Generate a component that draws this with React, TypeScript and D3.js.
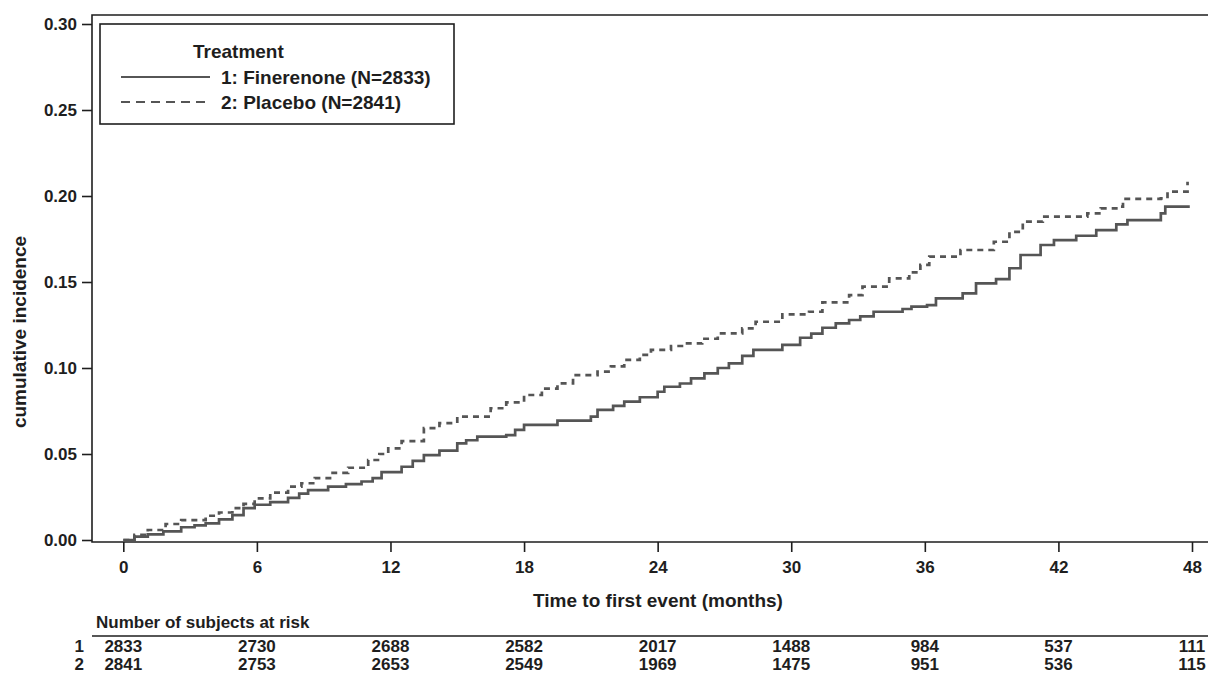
import React, { useEffect, useRef } from 'react';
import * as d3 from 'd3';

// Kaplan-Meier style cumulative incidence (months, proportion)
const finerenoneTime = [0, 0.5, 1.1, 1.8, 2.6, 3.2, 3.7, 4.3, 4.9, 5.4, 5.9, 6.6, 7.4, 7.9, 8.3, 9.2, 10.0, 10.7, 11.2, 11.6, 12.5, 13.0, 13.5, 14.2, 15.0, 15.4, 15.9, 17.2, 17.6, 18.0, 19.5, 21.0, 21.3, 22.0, 22.5, 23.2, 24.0, 24.3, 25.0, 25.5, 26.1, 26.7, 27.2, 27.8, 28.3, 29.6, 30.4, 30.9, 31.4, 32.0, 32.6, 33.1, 33.7, 35.0, 35.4, 36.1, 36.5, 37.7, 38.3, 39.2, 39.8, 40.3, 41.2, 41.8, 42.8, 43.7, 44.6, 45.1, 46.6, 46.8, 47.9];
const finerenoneInc = [0, 0.002, 0.0033, 0.005, 0.0074, 0.0085, 0.0097, 0.012, 0.0145, 0.0185, 0.0205, 0.022, 0.0245, 0.027, 0.029, 0.031, 0.0325, 0.034, 0.036, 0.0395, 0.0426, 0.046, 0.0494, 0.052, 0.0562, 0.058, 0.0601, 0.061, 0.064, 0.0669, 0.0694, 0.0717, 0.0756, 0.078, 0.0804, 0.083, 0.0862, 0.0891, 0.091, 0.094, 0.0969, 0.100, 0.1027, 0.107, 0.1105, 0.1134, 0.1176, 0.120, 0.1234, 0.126, 0.1279, 0.130, 0.1327, 0.1343, 0.1357, 0.1366, 0.1405, 0.1434, 0.1492, 0.1517, 0.158, 0.1657, 0.1715, 0.1744, 0.1769, 0.1802, 0.1835, 0.186, 0.1899, 0.1938, 0.1938];

const placeboTime = [0, 0.5, 1.1, 1.9, 2.6, 3.7, 4.3, 4.9, 5.4, 5.9, 6.6, 7.4, 8.0, 8.6, 9.4, 10.1, 11.0, 11.5, 11.9, 12.5, 13.5, 14.2, 15.0, 16.5, 17.2, 18.0, 18.8, 19.5, 20.2, 21.3, 21.9, 22.5, 23.2, 23.7, 24.6, 25.2, 26.0, 26.7, 27.8, 28.4, 29.6, 30.8, 31.4, 32.6, 33.2, 34.4, 35.3, 35.8, 36.2, 37.6, 39.1, 39.8, 40.4, 41.3, 43.3, 43.9, 44.6, 44.9, 46.6, 46.9, 47.6, 47.8];
const placeboInc = [0, 0.003, 0.0058, 0.0093, 0.0116, 0.0141, 0.016, 0.0185, 0.021, 0.0242, 0.0275, 0.031, 0.033, 0.036, 0.039, 0.042, 0.0465, 0.050, 0.0533, 0.0575, 0.065, 0.068, 0.0717, 0.0766, 0.080, 0.0843, 0.088, 0.0911, 0.0959, 0.0979, 0.101, 0.1047, 0.1076, 0.1105, 0.1128, 0.1143, 0.117, 0.1201, 0.123, 0.1269, 0.1312, 0.1327, 0.1382, 0.1424, 0.1473, 0.1521, 0.1556, 0.160, 0.1647, 0.1686, 0.1734, 0.1792, 0.1851, 0.188, 0.1899, 0.1928, 0.1938, 0.1983, 0.1986, 0.2025, 0.2025, 0.2083];

const xTicks = [0, 6, 12, 18, 24, 30, 36, 42, 48];
const yTicks = [0, 0.05, 0.10, 0.15, 0.20, 0.25, 0.30];

const riskFinerenone = [2833, 2730, 2688, 2582, 2017, 1488, 984, 537, 111];
const riskPlacebo = [2841, 2753, 2653, 2549, 1969, 1475, 951, 536, 115];

const legendLabels = ['1: Finerenone (N=2833)', '2: Placebo (N=2841)'];

const W = 1208;
const H = 674;
const FONT = '"Liberation Sans", Arial, Helvetica, sans-serif';
const INK = '#1e1e1e';
const CURVE = '#555555';

const frame = { left: 92, top: 15, bottom: 542 };

function zip(t: number[], v: number[]) {
  return t.map((d, i) => ({ t: d, v: v[i] }));
}

function styleText(sel: any, size: number) {
  return sel
    .attr('fill', INK)
    .style('font-family', FONT)
    .style('font-weight', 'bold')
    .style('font-size', `${size}px`);
}

function draw(node: SVGSVGElement) {
  const svg = d3.select(node);
  svg.selectAll('*').remove();

  const x = d3.scaleLinear().domain([0, 48]).range([123.3, 1192]);
  const y = d3.scaleLinear().domain([0, 0.30]).range([540, 24]);

  // frame
  svg.append('path')
    .attr('d', `M${W},${frame.top}H${frame.left}V${frame.bottom}H${W}`)
    .attr('fill', 'none')
    .attr('stroke', INK)
    .attr('stroke-width', 1.6);

  // y axis
  const gy = svg.append('g')
    .attr('transform', `translate(${frame.left},0)`)
    .call(d3.axisLeft(y).tickValues(yTicks).tickFormat(d3.format('.2f')).tickSize(10).tickPadding(5));
  gy.select('.domain').remove();
  gy.selectAll('line').attr('stroke', INK).attr('stroke-width', 1.6);
  styleText(gy.selectAll('text'), 17);

  // x axis
  const gx = svg.append('g')
    .attr('transform', `translate(0,${frame.bottom})`)
    .call(d3.axisBottom(x).tickValues(xTicks).tickFormat(d3.format('d')).tickSize(10).tickPadding(9));
  gx.select('.domain').remove();
  gx.selectAll('line').attr('stroke', INK).attr('stroke-width', 1.6);
  styleText(gx.selectAll('text'), 17);

  // axis titles
  styleText(svg.append('text'), 19)
    .attr('x', 658).attr('y', 607)
    .attr('text-anchor', 'middle')
    .text('Time to first event (months)');

  styleText(svg.append('text'), 19)
    .attr('transform', 'translate(26,332) rotate(-90)')
    .attr('text-anchor', 'middle')
    .text('cumulative incidence');

  // curves
  const line = d3.line<{ t: number; v: number }>()
    .x(d => x(d.t))
    .y(d => y(d.v))
    .curve(d3.curveStepAfter);

  svg.append('path')
    .datum(zip(placeboTime, placeboInc))
    .attr('d', line)
    .attr('fill', 'none')
    .attr('stroke', CURVE)
    .attr('stroke-width', 2.7)
    .attr('stroke-dasharray', '6,5');

  svg.append('path')
    .datum(zip(finerenoneTime, finerenoneInc))
    .attr('d', line)
    .attr('fill', 'none')
    .attr('stroke', CURVE)
    .attr('stroke-width', 2.7);

  // legend
  const lg = svg.append('g');
  lg.append('rect')
    .attr('x', 100).attr('y', 24).attr('width', 354).attr('height', 100)
    .attr('fill', '#fff').attr('stroke', INK).attr('stroke-width', 1.6);
  styleText(lg.append('text'), 19)
    .attr('x', 193).attr('y', 58)
    .text('Treatment');
  legendLabels.forEach((label, i) => {
    const cy = 77 + i * 25;
    lg.append('line')
      .attr('x1', 121).attr('x2', 210).attr('y1', cy).attr('y2', cy)
      .attr('stroke', INK).attr('stroke-width', 1.5)
      .attr('stroke-dasharray', i === 1 ? '9,6' : null);
    styleText(lg.append('text'), 19)
      .attr('x', 221).attr('y', cy + 7)
      .text(label);
  });

  // number at risk table
  const risk = styleText(svg.append('g'), 17);
  risk.append('text').attr('x', 96).attr('y', 628).text('Number of subjects at risk');
  risk.append('line')
    .attr('x1', frame.left).attr('x2', W).attr('y1', 636).attr('y2', 636)
    .attr('stroke', INK).attr('stroke-width', 1.6);

  [riskFinerenone, riskPlacebo].forEach((row, r) => {
    const by = 651.5 + r * 18.5;
    risk.append('text').attr('x', 84).attr('y', by).attr('text-anchor', 'end').text(String(r + 1));
    risk.selectAll(null)
      .data(row)
      .enter().append('text')
      .attr('x', (_: number, i: number) => x(xTicks[i]))
      .attr('y', by)
      .attr('text-anchor', 'middle')
      .text((d: number) => d);
  });
}

export default function App() {
  const ref = useRef<SVGSVGElement>(null);

  useEffect(() => {
    if (ref.current) draw(ref.current);
  }, []);

  return (
    <svg
      ref={ref}
      width={W}
      height={H}
      style={{ position: 'absolute', left: 0, top: 0, display: 'block', background: '#fff' }}
    />
  );
}
